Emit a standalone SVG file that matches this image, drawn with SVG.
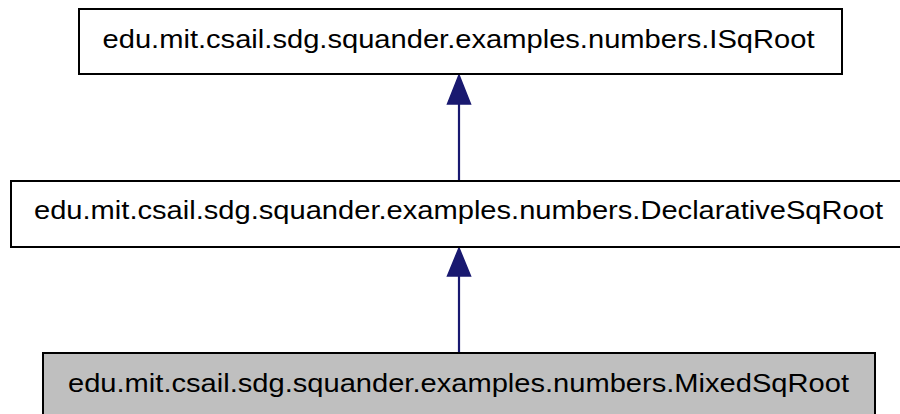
<svg xmlns="http://www.w3.org/2000/svg" width="900" height="414" viewBox="0 0 900 414">
<style>
.box{fill:#ffffff;stroke:#000000;stroke-width:2}
.cur{fill:#bfbfbf}
.lbl{font-family:"Liberation Sans",Arial,Helvetica,sans-serif;font-size:26.5px;fill:#000000;text-anchor:middle}
.edge{stroke:#191970;stroke-width:2.2;fill:none}
.head{fill:#191970;stroke:#191970;stroke-width:1.5}
</style>
<rect width="900" height="414" fill="#ffffff"/>
<g id="connectors">
<g id="edge1">
<line class="edge" x1="459" y1="181" x2="459" y2="102"/>
<polygon class="head" points="459,75 447.5,104 470.5,104"/>
</g>
<g id="edge2">
<line class="edge" x1="459" y1="353" x2="459" y2="274"/>
<polygon class="head" points="459,248 447.5,276 470.5,276"/>
</g>
</g>
<g id="node-ISqRoot">
<rect class="box" x="79" y="9" width="763" height="65"/>
<text class="lbl" x="458.5" y="48" textLength="712" lengthAdjust="spacingAndGlyphs">edu.mit.csail.sdg.squander.examples.numbers.ISqRoot</text>
</g>
<g id="node-DeclarativeSqRoot">
<rect class="box" x="11" y="181" width="895" height="66"/>
<text class="lbl" x="458.5" y="219" textLength="849" lengthAdjust="spacingAndGlyphs">edu.mit.csail.sdg.squander.examples.numbers.DeclarativeSqRoot</text>
</g>
<g id="node-MixedSqRoot">
<rect class="box cur" x="43" y="353" width="832" height="66"/>
<text class="lbl" x="458.5" y="392" textLength="781" lengthAdjust="spacingAndGlyphs">edu.mit.csail.sdg.squander.examples.numbers.MixedSqRoot</text>
</g>
</svg>
